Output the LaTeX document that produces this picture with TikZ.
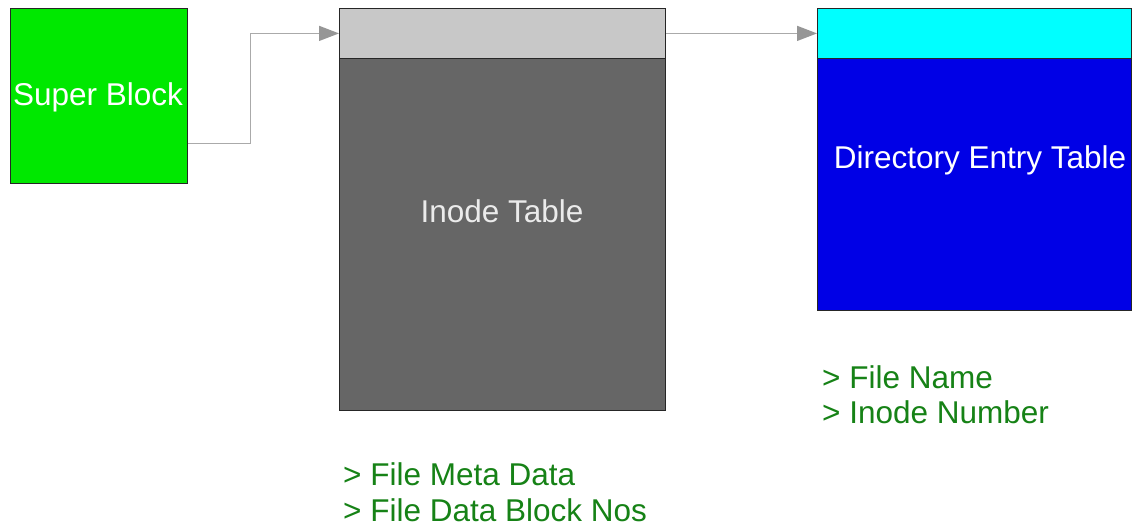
\documentclass[tikz,border=0pt]{standalone}
\usepackage{fontspec}
\setmainfont{Liberation Sans}
\usetikzlibrary{arrows.meta,calc}
\definecolor{sbgreen}{RGB}{0,232,0}
\definecolor{hdrgray}{RGB}{200,200,200}
\definecolor{bodygray}{RGB}{102,102,102}
\definecolor{hdrcyan}{RGB}{0,255,255}
\definecolor{dirblue}{RGB}{0,0,230}
\definecolor{notegreen}{RGB}{22,130,22}
\definecolor{linkgray}{RGB}{170,170,170}
\definecolor{tipgray}{RGB}{150,150,150}
\tikzset{
  block/.style={draw=black!85, line width=0.8pt, inner sep=0pt, anchor=north west, rectangle},
  bigtext/.style={font=\fontsize{31.5}{37}\selectfont},
  note/.style={font=\fontsize{31.5}{37}\selectfont, text=notegreen, anchor=base west, inner sep=0pt},
  link/.style={draw=linkgray, line width=1.3pt,
    -{Triangle[length=20pt,width=15pt,color=tipgray]}},
}
\begin{document}
\begin{tikzpicture}[x=1pt,y=-1pt]
\useasboundingbox (0,0) rectangle (1140,528);
\fill[white] (0,0) rectangle (1140,528);

% super block
\node[block, fill=sbgreen, minimum width=177pt, minimum height=175pt] (super) at (10,8) {};
\node[bigtext, text=white, inner sep=0pt] (superlbl) at (98,97) {Super Block};

% inode table: header strip and body
\node[block, fill=hdrgray, minimum width=326pt, minimum height=50pt] (inodehead) at (339,8) {};
\node[block, fill=bodygray, minimum width=326pt, minimum height=352pt] (inodebody) at (339,58) {};
\node[bigtext, text=white!92!black, inner sep=0pt] (inodelbl) at (502,211) {Inode Table};

% directory entry table: header strip and body
\node[block, fill=hdrcyan, minimum width=314pt, minimum height=50pt] (dirhead) at (817,8) {};
\node[block, fill=dirblue, minimum width=314pt, minimum height=252pt] (dirbody) at (817,58) {};
\node[bigtext, text=white, inner sep=0pt] (dirlbl) at (980,160) {Directory Entry Table};

% links between the structures
\draw[link] ([yshift=40pt]super.south east) -- ++(63,0) |- (inodehead.west);
\draw[link] (inodehead.east) -- (dirhead.west);

% contents of each table
\node[note] (meta) at (343,485) {> File Meta Data};
\node[note] (blocks) at (343,521) {> File Data Block Nos};
\node[note] (fname) at (822,388) {> File Name};
\node[note] (inum) at (822,423) {> Inode Number};
\end{tikzpicture}
\end{document}
